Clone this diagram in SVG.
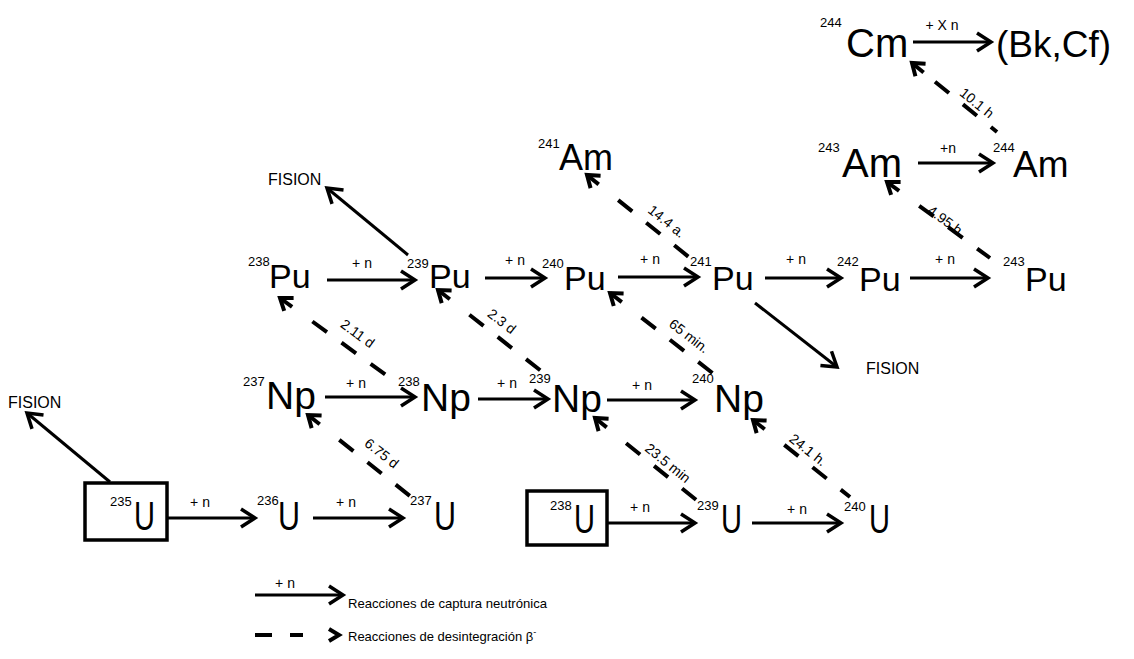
<svg xmlns="http://www.w3.org/2000/svg" width="1134" height="659" viewBox="0 0 1134 659">
  <defs>
    <style>
      text { font-family: "Liberation Sans", Arial, sans-serif; fill: #000; }
      .sup { font-size: 13px; }
      .pu { font-size: 34px; }
      .np { font-size: 39px; }
      .u { font-size: 40px; }
      .am { font-size: 38px; }
      .lbl { font-size: 14px; text-anchor: middle; }
      .dl { font-size: 14px; text-anchor: middle; }
      .fis { font-size: 16px; }
      .leg { font-size: 13px; }
      .cap { stroke: #000; stroke-width: 3; fill: none; marker-end: url(#arr); }
      .dash { stroke: #000; stroke-width: 4; fill: none; stroke-dasharray: 18 18; }
      .head { stroke: #000; stroke-width: 4; fill: none; marker-end: url(#dec); }
      .box { stroke: #000; stroke-width: 3.5; fill: none; }
    </style>
    <!-- open chevron for neutron-capture arrows -->
    <marker id="arr" viewBox="-20 -12 26 24" refX="0" refY="0" markerWidth="26" markerHeight="24" markerUnits="userSpaceOnUse" orient="auto" overflow="visible">
      <path d="M-14,-9 L0,0 L-14,9" fill="none" stroke="#000" stroke-width="3.5"/>
    </marker>
    <!-- heavier chevron for beta-decay arrows -->
    <marker id="dec" viewBox="-16 -12 22 24" refX="0" refY="0" markerWidth="22" markerHeight="24" markerUnits="userSpaceOnUse" orient="auto" overflow="visible">
      <path d="M-11,-8 L0,0 L-11,8" fill="none" stroke="#000" stroke-width="4"/>
    </marker>
  </defs>

  <rect width="1134" height="659" fill="#fff"/>

  <!-- connectors -->
  <g id="connectors">
    <!-- neutron capture: Pu row -->
    <line class="cap" x1="327" y1="280" x2="415" y2="280"/>
    <text class="lbl" x="362" y="268">+ n</text>
    <line class="cap" x1="485" y1="278" x2="545" y2="278"/>
    <text class="lbl" x="515" y="265">+ n</text>
    <line class="cap" x1="618" y1="277" x2="698" y2="277"/>
    <text class="lbl" x="650" y="264">+ n</text>
    <line class="cap" x1="765" y1="278" x2="841" y2="278"/>
    <text class="lbl" x="796" y="264">+ n</text>
    <line class="cap" x1="910" y1="278" x2="988" y2="278"/>
    <text class="lbl" x="945" y="264">+ n</text>

    <!-- neutron capture: Np row -->
    <line class="cap" x1="325" y1="397" x2="415" y2="397"/>
    <text class="lbl" x="356" y="388">+ n</text>
    <line class="cap" x1="478" y1="399" x2="548" y2="399"/>
    <text class="lbl" x="507" y="388">+ n</text>
    <line class="cap" x1="607" y1="400" x2="695" y2="400"/>
    <text class="lbl" x="642" y="390">+ n</text>

    <!-- neutron capture: U row -->
    <line class="cap" x1="167" y1="518" x2="255" y2="518"/>
    <text class="lbl" x="200" y="507">+ n</text>
    <line class="cap" x1="313" y1="518" x2="403" y2="518"/>
    <text class="lbl" x="346" y="507">+ n</text>
    <line class="cap" x1="608" y1="523" x2="695" y2="523"/>
    <text class="lbl" x="640" y="512">+ n</text>
    <line class="cap" x1="752" y1="523" x2="841" y2="523"/>
    <text class="lbl" x="797" y="514">+ n</text>

    <!-- neutron capture: Am and Cm -->
    <line class="cap" x1="918" y1="163" x2="993" y2="163"/>
    <text class="lbl" x="948" y="153">+n</text>
    <line class="cap" x1="913" y1="42" x2="991" y2="42"/>
    <text class="lbl" x="942" y="30">+ X n</text>

    <!-- fission branches -->
    <line class="cap" x1="110" y1="482" x2="27" y2="413"/>
    <line class="cap" x1="408" y1="255" x2="327" y2="188"/>
    <line class="cap" x1="755" y1="303" x2="837" y2="367"/>

    <!-- beta decays -->
    <line class="dash" x1="312.4" y1="321.5" x2="390" y2="378"/>
    <line class="head" x1="292.1" y1="306.8" x2="280" y2="298"/>
    <text class="dl" transform="translate(347.7,347.2) rotate(36)" y="-12">2.11 d</text>

    <line class="dash" x1="469.4" y1="314.7" x2="550" y2="378"/>
    <line class="head" x1="449.8" y1="299.3" x2="438" y2="290"/>
    <text class="dl" transform="translate(492.6,332.9) rotate(38.2)" y="-10">2.3 d</text>

    <line class="dash" x1="641.5" y1="317.6" x2="715" y2="375"/>
    <line class="head" x1="621.8" y1="302.2" x2="610" y2="293"/>
    <text class="dl" transform="translate(680,347.7) rotate(38)" y="-10">65 min.</text>

    <line class="dash" x1="618.2" y1="200.1" x2="695" y2="262"/>
    <line class="head" x1="598.7" y1="184.4" x2="587" y2="175"/>
    <text class="dl" transform="translate(658,232.1) rotate(38.9)" y="-9">14.4 a.</text>

    <line class="dash" x1="339.3" y1="439.9" x2="415" y2="500"/>
    <line class="head" x1="319.7" y1="424.3" x2="308" y2="415"/>
    <text class="dl" transform="translate(371.8,465.7) rotate(38.5)" y="-11">6.75 d</text>

    <line class="dash" x1="626.1" y1="443.2" x2="700" y2="503"/>
    <line class="head" x1="606.7" y1="427.4" x2="595" y2="418"/>
    <text class="dl" transform="translate(661,471.5) rotate(39)" y="-6">23.5 min</text>

    <line class="dash" x1="784.3" y1="444.9" x2="850" y2="497"/>
    <line class="head" x1="764.7" y1="429.3" x2="753" y2="420"/>
    <text class="dl" transform="translate(801.4,458.4) rotate(38.4)" y="-6">24.1 h.</text>

    <line class="dash" x1="919.2" y1="205.8" x2="990" y2="258"/>
    <line class="head" x1="899.1" y1="190.9" x2="887" y2="182"/>
    <text class="dl" transform="translate(942.8,223.2) rotate(36.4)" y="1">4.95 h</text>

    <line class="dash" x1="935" y1="81.7" x2="997" y2="132"/>
    <line class="head" x1="923.6" y1="72.5" x2="912" y2="63"/>
    <text class="dl" transform="translate(970.7,110.6) rotate(39.1)" y="-5">10.1 h</text>
  </g>

  <!-- fission labels -->
  <g id="fission">
    <text class="fis" x="8" y="408">FISION</text>
    <text class="fis" x="268" y="185">FISION</text>
    <text class="fis" x="866" y="374">FISION</text>
  </g>

  <!-- nuclides -->
  <g id="u235">
    <rect class="box" x="85" y="483" width="82" height="57"/>
    <text class="sup" x="110" y="506">235</text>
    <text class="u" x="134" y="530" textLength="21" lengthAdjust="spacingAndGlyphs">U</text>
  </g>
  <g id="u236">
    <text class="sup" x="257" y="505">236</text>
    <text class="u" x="278" y="530" textLength="22" lengthAdjust="spacingAndGlyphs">U</text>
  </g>
  <g id="u237">
    <text class="sup" x="410" y="505">237</text>
    <text class="u" x="434" y="530" textLength="22" lengthAdjust="spacingAndGlyphs">U</text>
  </g>
  <g id="u238">
    <rect class="box" x="527" y="491" width="80" height="54"/>
    <text class="sup" x="550" y="510">238</text>
    <text class="u" x="574" y="533" textLength="21" lengthAdjust="spacingAndGlyphs">U</text>
  </g>
  <g id="u239">
    <text class="sup" x="697" y="510">239</text>
    <text class="u" x="721" y="533" textLength="21" lengthAdjust="spacingAndGlyphs">U</text>
  </g>
  <g id="u240">
    <text class="sup" x="844" y="511">240</text>
    <text class="u" x="869" y="533" textLength="21" lengthAdjust="spacingAndGlyphs">U</text>
  </g>

  <g id="np237">
    <text class="sup" x="243" y="386">237</text>
    <text class="np" x="266" y="409">Np</text>
  </g>
  <g id="np238">
    <text class="sup" x="398" y="386">238</text>
    <text class="np" x="421" y="411">Np</text>
  </g>
  <g id="np239">
    <text class="sup" x="529" y="383">239</text>
    <text class="np" x="552" y="412">Np</text>
  </g>
  <g id="np240">
    <text class="sup" x="692" y="383">240</text>
    <text class="np" x="714" y="412">Np</text>
  </g>

  <g id="pu238">
    <text class="sup" x="248" y="266">238</text>
    <text class="pu" x="269" y="288">Pu</text>
  </g>
  <g id="pu239">
    <text class="sup" x="407" y="268">239</text>
    <text class="pu" x="429" y="288">Pu</text>
  </g>
  <g id="pu240">
    <text class="sup" x="542" y="268">240</text>
    <text class="pu" x="564" y="290">Pu</text>
  </g>
  <g id="pu241">
    <text class="sup" x="690" y="266">241</text>
    <text class="pu" x="712" y="290">Pu</text>
  </g>
  <g id="pu242">
    <text class="sup" x="837" y="266">242</text>
    <text class="pu" x="859" y="291">Pu</text>
  </g>
  <g id="pu243">
    <text class="sup" x="1003" y="266">243</text>
    <text class="pu" x="1025" y="291">Pu</text>
  </g>

  <g id="am241">
    <text class="sup" x="538" y="148">241</text>
    <text class="am" x="559" y="170" style="font-size:36px">Am</text>
  </g>
  <g id="am243">
    <text class="sup" x="818" y="152">243</text>
    <text class="am" x="842" y="177" style="font-size:40px">Am</text>
  </g>
  <g id="am244">
    <text class="sup" x="993" y="152">244</text>
    <text class="am" x="1013" y="177" style="font-size:37px">Am</text>
  </g>
  <g id="cm244">
    <text class="sup" x="820" y="27">244</text>
    <text x="846" y="57" style="font-size:40px">Cm</text>
  </g>
  <g id="bkcf">
    <text x="996" y="57" style="font-size:37px">(Bk,Cf)</text>
  </g>

  <!-- legend -->
  <g id="legend">
    <line class="cap" x1="255" y1="595" x2="343" y2="595"/>
    <text class="lbl" x="285" y="588">+ n</text>
    <text class="leg" x="348" y="608" textLength="199" lengthAdjust="spacingAndGlyphs">Reacciones de captura neutrónica</text>
    <line stroke="#000" stroke-width="4" x1="255" y1="635" x2="272" y2="635"/>
    <line stroke="#000" stroke-width="4" x1="290" y1="635" x2="303" y2="635"/>
    <path d="M329,629 L339,635 L329,641" fill="none" stroke="#000" stroke-width="4"/>
    <text class="leg" x="348" y="641">Reacciones de desintegración β<tspan dy="-6" style="font-size:9px">-</tspan></text>
  </g>
</svg>
